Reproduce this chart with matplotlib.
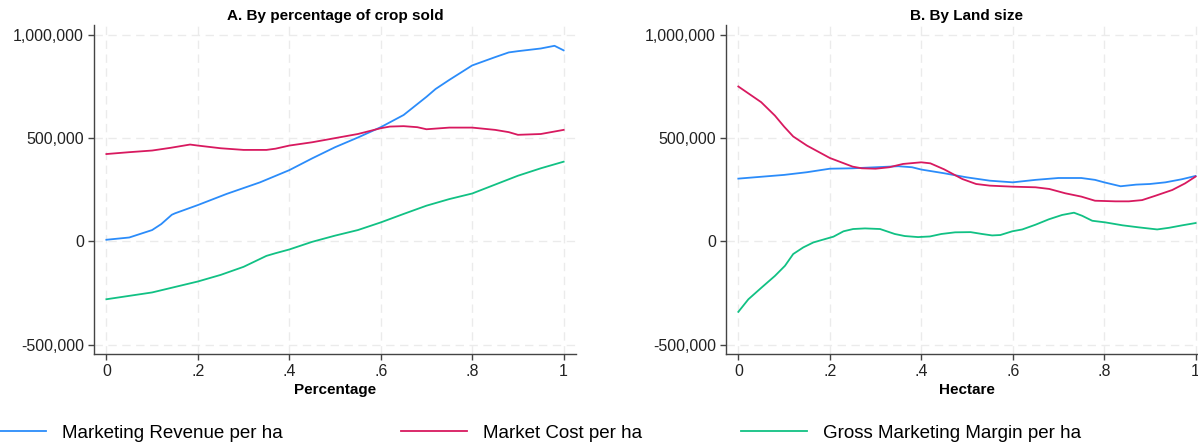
import matplotlib
matplotlib.use('agg')
import matplotlib.pyplot as plt
from matplotlib.ticker import FuncFormatter

plt.rcParams['font.family'] = ['Liberation Sans', 'DejaVu Sans']

# ---- Panel A: by percentage of crop sold (values in thousands) ----
a_rev_x = [0, 0.05, 0.1, 0.12, 0.143, 0.15, 0.2, 0.263, 0.336, 0.4, 0.45, 0.5,
           0.55, 0.6, 0.65, 0.7, 0.72, 0.75, 0.8, 0.85, 0.88, 0.9, 0.95, 0.98, 1.0]
a_rev_y = [8, 19, 55, 84, 129, 136, 176, 230, 286, 345, 402, 456,
           503, 553, 612, 700, 738, 782, 852, 892, 915, 921, 934, 947, 925]

a_cost_x = [0, 0.05, 0.1, 0.14, 0.183, 0.2, 0.25, 0.3, 0.35, 0.37, 0.4, 0.45, 0.5,
            0.55, 0.6, 0.62, 0.65, 0.68, 0.7, 0.75, 0.8, 0.85, 0.88, 0.9, 0.95, 1.0]
a_cost_y = [423, 432, 440, 453, 469, 464, 451, 443, 443, 449, 464, 480, 500,
            520, 548, 556, 558, 553, 543, 551, 551, 540, 529, 516, 520, 540]

a_marg_x = [0, 0.1, 0.2, 0.25, 0.3, 0.35, 0.37, 0.4, 0.45, 0.5, 0.55, 0.6, 0.65,
            0.7, 0.75, 0.8, 0.85, 0.9, 0.95, 1.0]
a_marg_y = [-280, -247, -194, -162, -123, -70, -57, -39, -2, 28, 55, 92, 133,
            173, 205, 232, 275, 318, 354, 386]

# ---- Panel B: by land size ----
b_rev_x = [0, 0.1, 0.15, 0.2, 0.25, 0.3, 0.35, 0.38, 0.4, 0.45, 0.5, 0.55, 0.6,
           0.65, 0.7, 0.75, 0.78, 0.8, 0.836, 0.87, 0.9, 0.934, 0.97, 1.0]
b_rev_y = [304, 322, 335, 352, 354, 359, 364, 359, 348, 330, 310, 294, 286,
           298, 307, 307, 298, 286, 267, 275, 278, 286, 301, 317]

b_cost_x = [0, 0.05, 0.08, 0.1, 0.12, 0.15, 0.2, 0.25, 0.27, 0.3, 0.33, 0.36, 0.4,
            0.42, 0.45, 0.49, 0.52, 0.55, 0.6, 0.65, 0.68, 0.715, 0.75, 0.78, 0.825,
            0.854, 0.883, 0.912, 0.949, 0.977, 1.0]
b_cost_y = [750, 674, 609, 556, 508, 464, 404, 362, 354, 352, 359, 375, 383,
            378, 349, 302, 278, 270, 265, 262, 254, 233, 217, 197, 194,
            194, 200, 221, 249, 281, 314]

b_marg_x = [0, 0.022, 0.051, 0.08, 0.102, 0.12, 0.142, 0.164, 0.189, 0.208, 0.23,
            0.251, 0.277, 0.31, 0.342, 0.364, 0.393, 0.419, 0.444, 0.474, 0.508,
            0.533, 0.555, 0.573, 0.599, 0.621, 0.65, 0.679, 0.708, 0.734, 0.752,
            0.774, 0.803, 0.84, 0.876, 0.916, 0.942, 0.971, 1.0]
b_marg_y = [-341, -280, -223, -167, -118, -61, -29, -5, 11, 23, 49,
            60, 63, 60, 36, 26, 21, 24, 36, 44, 45,
            36, 29, 31, 49, 58, 81, 107, 128, 139, 124,
            100, 92, 78, 68, 58, 66, 78, 89]

series_labels = ['Marketing Revenue per ha', 'Market Cost per ha', 'Gross Marketing Margin per ha']
series_colors = ['#2b8cfa', '#d8195f', '#11c184']
titles = ['A. By percentage of crop sold', 'B. By Land size']
xlabels = ['Percentage', 'Hectare']
yticks = [-500000, 0, 500000, 1000000]
xticks = [0, 0.2, 0.4, 0.6, 0.8, 1.0]
xticklabels = ['0', '.2', '.4', '.6', '.8', '1']

panels = [
    [(a_rev_x, a_rev_y), (a_cost_x, a_cost_y), (a_marg_x, a_marg_y)],
    [(b_rev_x, b_rev_y), (b_cost_x, b_cost_y), (b_marg_x, b_marg_y)],
]

fig = plt.figure(figsize=(11.98, 4.45), dpi=100)
ax_a = fig.add_axes([0.0785, 0.2045, 0.4023, 0.739])
ax_b = fig.add_axes([0.6060, 0.2045, 0.4023, 0.739])

handles = []
for ax, data, title, xlab in zip([ax_a, ax_b], panels, titles, xlabels):
    for (xs, ys), c, lab in zip(data, series_colors, series_labels):
        ln, = ax.plot(xs, [v * 1000 for v in ys], color=c, lw=1.3, label=lab)
        if ax is ax_a:
            handles.append(ln)

    ax.set_xlim(-0.027, 1.027)
    ax.set_ylim(-545000, 1047000)
    ax.set_xticks(xticks)
    ax.set_xticklabels(xticklabels)
    ax.set_yticks(yticks)
    ax.yaxis.set_major_formatter(FuncFormatter(lambda v, p: '{:,.0f}'.format(v)))

    ax.grid(True, color='#ebebeb', lw=1.0, ls=(0, (6, 4)))
    ax.set_axisbelow(True)
    for s in ['top', 'right']:
        ax.spines[s].set_visible(False)
    for s in ['left', 'bottom']:
        ax.spines[s].set_color('#444444')
        ax.spines[s].set_linewidth(1.0)
    ax.tick_params(axis='both', length=4.3, width=1.0, color='#444444',
                   labelsize=11.5, labelcolor='#222222', pad=3)

    ax.set_title(title, fontsize=11, fontweight='bold', pad=4)
    ax.set_xlabel(xlab, fontsize=11, fontweight='bold', labelpad=3)

# legend entries spread along the bottom
leg_x = [-0.0167, 0.3347, 0.6185]
for h, lx in zip(handles, leg_x):
    fig.legend(handles=[h], loc='center left', bbox_to_anchor=(lx, 0.027),
               frameon=False, fontsize=13.5, handlelength=3.5, handletextpad=0.85,
               borderpad=0, borderaxespad=0)

fig.savefig('out.png', dpi=100)
plt.close(fig)
